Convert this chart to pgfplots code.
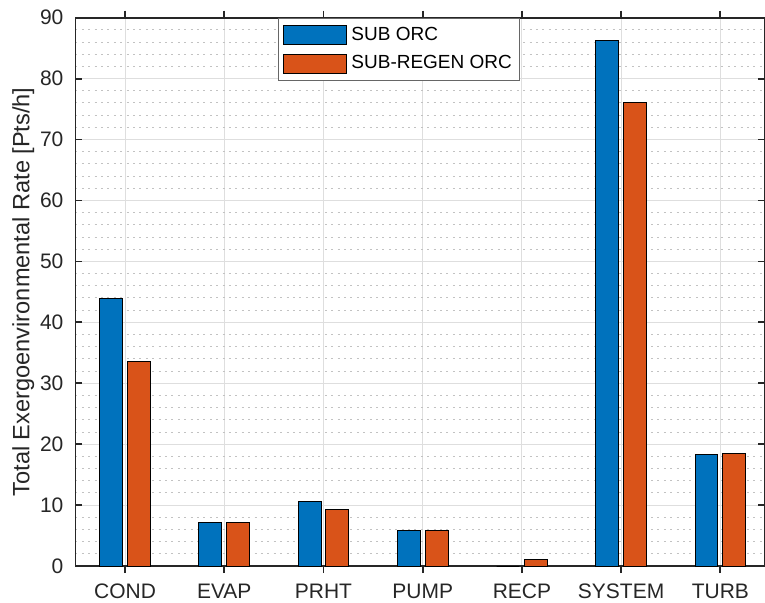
\documentclass[border=0pt]{standalone}
\usepackage{fontspec}
\setmainfont{Liberation Sans}
\usepackage{pgfplots}
\pgfplotsset{compat=1.18}
\definecolor{mblue}{RGB}{0,114,189}
\definecolor{morange}{RGB}{217,83,25}
\definecolor{axgray}{gray}{0.15}
\begin{document}
\begin{tikzpicture}
\begin{axis}[
  at={(0,0)}, anchor=south west,
  scale only axis, width=344.75pt, height=274.4pt,
  xmin=0.5, xmax=7.445, ymin=0, ymax=90,
  xtick={1,2,3,4,5,6,7},
  xticklabels={COND,EVAP,PRHT,PUMP,RECP,SYSTEM,TURB},
  ytick={0,10,...,90},
  minor y tick num=4,
  ymajorgrids, xmajorgrids, yminorgrids,
  major grid style={black!13, line width=0.5pt},
  minor grid style={black!24, line width=0.5pt, dash pattern=on 1pt off 2.2pt},
  tick align=inside, major tick length=3.5pt, minor tick length=0pt,
  axis line style={axgray, line width=0.9pt},
  every tick/.style={axgray, line width=0.9pt},
  tick label style={font=\fontsize{10.5}{12}\selectfont, text=axgray},
  /pgf/number format/assume math mode=true,
  yticklabel style={xshift=-2.5pt},
  xticklabel style={yshift=-2pt},
  ylabel={Total Exergoenvironmental Rate [Pts/h]},
  ylabel style={at={(axis description cs:-0.0667,0.5)}, anchor=base, font=\fontsize{11.8}{13}\selectfont, text=axgray},
  ybar, bar width=0.23,
  legend image code/.code={\draw[#1] (0pt,-4.75pt) rectangle (32pt,4.75pt);},
  legend cell align=left,
  legend style={at={(axis description cs:0.294,1)}, anchor=north west,
    draw=black!60, line width=0.5pt, fill=white,
    font=\fontsize{9.5}{11}\selectfont, text=black,
    inner xsep=2pt, inner ysep=2.5pt, row sep=2pt},
]
\addplot[fill=mblue, draw=black, line width=0.5pt, bar shift=-0.14]
  coordinates {(1,43.9) (2,7.2) (3,10.6) (4,5.9) (5,0) (6,86.2) (7,18.3)};
\addlegendentry{SUB ORC}
\addplot[fill=morange, draw=black, line width=0.5pt, bar shift=0.14]
  coordinates {(1,33.5) (2,7.2) (3,9.3) (4,5.9) (5,1.1) (6,76.0) (7,18.5)};
\addlegendentry{SUB-REGEN ORC}
\end{axis}
\pgfresetboundingbox
\path (-37.75pt,-18.25pt) rectangle (345pt,283.25pt);
\end{tikzpicture}
\end{document}
